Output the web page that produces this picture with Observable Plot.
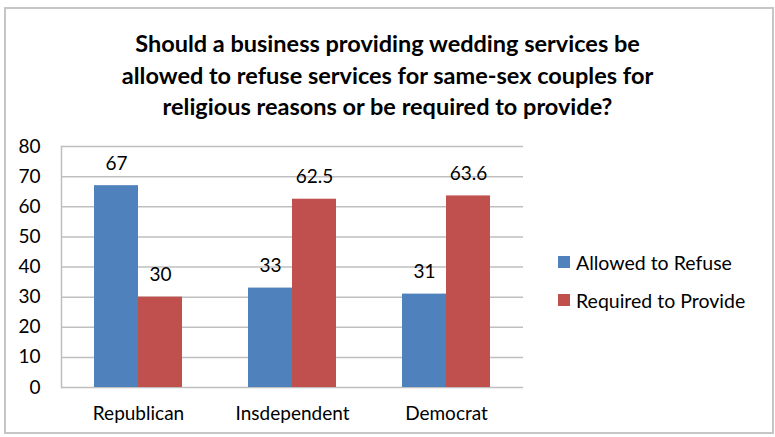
<!DOCTYPE html>
<html>
<head>
<meta charset="utf-8">
<script src="https://cdn.jsdelivr.net/npm/d3@7"></script>
<script src="https://cdn.jsdelivr.net/npm/@observablehq/plot@0.6"></script>
<style>
  html, body { margin: 0; padding: 0; background: #fff; }
  #wrap { position: relative; width: 775px; height: 437px; overflow: hidden; font-family: Lato, "Open Sans", sans-serif; }
  #border { position: absolute; left: 4px; top: 7px; width: 766px; height: 423px; border: 2px solid #c6c6c6; }
  #title { position: absolute; left: 0; top: 28px; width: 775px; text-align: center; font-weight: bold; font-size: 23.5px; line-height: 31.5px; color: #000; }
  #chart { position: absolute; left: 0; top: 0; }
  #legend { position: absolute; left: 558px; top: 249px; font-size: 19.5px; color: #000; }
  .item { display: flex; align-items: center; height: 26px; margin-bottom: 12px; }
  .sw { width: 12px; height: 12px; margin-right: 6px; }
</style>
</head>
<body>
<div id="wrap">
  <div id="border"></div>
  <div id="chart"></div>
  <div id="title">Should a business providing wedding services be<br>allowed to refuse services for same-sex couples for<br>religious reasons or be required to provide?</div>
  <div id="legend"></div>
</div>
<script>
const parties = ["Republican", "Insdependent", "Democrat"];
const seriesNames = ["Allowed to Refuse", "Required to Provide"];
const allowedValues = [67, 33, 31];
const requiredValues = [30, 62.5, 63.6];
const yTicks = [0, 10, 20, 30, 40, 50, 60, 70, 80];
const seriesColors = ["#4F81BD", "#C0504D"];

const data = parties.flatMap((p, i) => [
  {party: p, series: seriesNames[0], value: allowedValues[i]},
  {party: p, series: seriesNames[1], value: requiredValues[i]}
]);

const chart = Plot.plot({
  width: 775,
  height: 437,
  marginTop: 146,
  marginBottom: 50,
  marginLeft: 61,
  marginRight: 252,
  style: {fontFamily: "Lato, 'Open Sans', sans-serif", fontSize: "19px", background: "transparent", color: "#000"},
  fx: {domain: parties, padding: 0, label: null},
  x: {domain: seriesNames, paddingInner: 0, paddingOuter: 0.73, axis: null},
  y: {domain: [0, 80], ticks: yTicks, label: null},
  color: {domain: seriesNames, range: seriesColors},
  marks: [
    Plot.ruleY(yTicks, {stroke: "#bfbfbf", strokeWidth: 1.5}),
    Plot.frame({anchor: "left", facetAnchor: "left", stroke: "#bfbfbf", strokeWidth: 1.5}),
    Plot.barY(data, {fx: "party", x: "series", y: "value", fill: "series"}),
    Plot.text(data, {fx: "party", x: "series", y: "value", text: d => String(d.value), dy: -22, fill: "#000", fontSize: 19}),
    Plot.axisY({ticks: yTicks, tickSize: 0, tickPadding: 21, fontSize: 19, label: null}),
    Plot.axisFx({anchor: "bottom", tickSize: 0, tickPadding: 19, fontSize: 19, label: null})
  ]
});
document.getElementById("chart").appendChild(chart);

const legend = document.getElementById("legend");
seriesNames.forEach((s, i) => {
  const item = document.createElement("div");
  item.className = "item";
  const sw = document.createElement("div");
  sw.className = "sw";
  sw.style.background = seriesColors[i];
  const t = document.createElement("span");
  t.textContent = s;
  item.appendChild(sw);
  item.appendChild(t);
  legend.appendChild(item);
});
</script>
</body>
</html>
